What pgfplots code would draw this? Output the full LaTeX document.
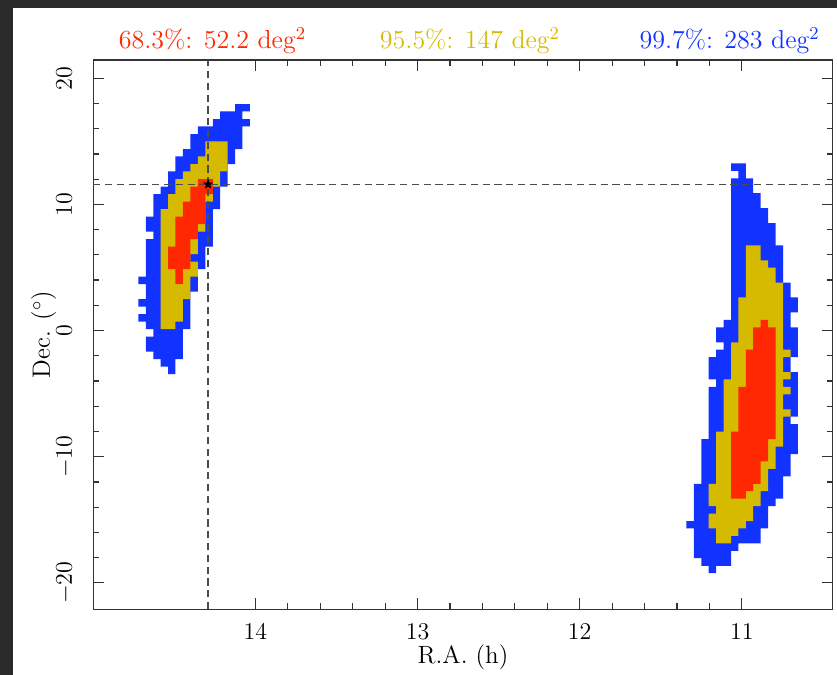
\documentclass[border=0pt]{standalone}
\usepackage{pgfplots}
\pgfplotsset{compat=1.18}
\definecolor{cblue}{RGB}{18,50,255}
\definecolor{cyel}{RGB}{214,186,0}
\definecolor{cred}{RGB}{255,40,0}
\definecolor{framecol}{RGB}{42,42,42}
\pgfdeclareplotmark{fivestar}{%
 \pgfpathmoveto{\pgfpointpolar{90}{\pgfplotmarksize}}%
 \pgfpathlineto{\pgfpointpolar{126}{0.42*\pgfplotmarksize}}%
 \pgfpathlineto{\pgfpointpolar{162}{\pgfplotmarksize}}%
 \pgfpathlineto{\pgfpointpolar{198}{0.42*\pgfplotmarksize}}%
 \pgfpathlineto{\pgfpointpolar{234}{\pgfplotmarksize}}%
 \pgfpathlineto{\pgfpointpolar{270}{0.42*\pgfplotmarksize}}%
 \pgfpathlineto{\pgfpointpolar{306}{\pgfplotmarksize}}%
 \pgfpathlineto{\pgfpointpolar{342}{0.42*\pgfplotmarksize}}%
 \pgfpathlineto{\pgfpointpolar{18}{\pgfplotmarksize}}%
 \pgfpathlineto{\pgfpointpolar{54}{0.42*\pgfplotmarksize}}%
 \pgfpathclose
 \pgfusepathqfillstroke}
\begin{document}
\begin{tikzpicture}
\useasboundingbox (-46.65pt,-32.85pt) rectangle (371.85pt,304.65pt);
\fill[framecol] (-46.65pt,-32.85pt) rectangle (-40.3pt,304.65pt);
\fill[framecol] (-46.65pt,300.65pt) rectangle (371.85pt,304.65pt);
\begin{axis}[
  name=ax, at={(0,0)}, anchor=south west,
  scale only axis, width=369.7pt, height=274.65pt,
  x dir=reverse, xmin=10.44, xmax=15.0, ymin=-22.1, ymax=21.45,
  xtick={11,12,13,14}, ytick={-20,-10,0,10,20},
  minor x tick num=4, minor y tick num=4,
  major tick length=5.5pt, minor tick length=3pt, tick align=inside,
  axis line style={black!80, line width=0.6pt},
  every tick/.style={black!80, line width=0.6pt},
  tick label style={font=\fontsize{12}{14}\selectfont},
  xticklabel style={anchor=base}, xticklabel shift=15.35pt,
  yticklabel style={rotate=90, anchor=base}, yticklabel shift=10.65pt,
  label style={font=\fontsize{12.5}{14}\selectfont},
  xlabel={R.A. (h)},
  xlabel style={at={([yshift=-27.35pt]axis description cs:0.5,0)}, anchor=base},
  ylabel={Dec. ($^{\circ}$)},
  ylabel style={at={([xshift=-21.65pt]axis description cs:0,0.5)}, anchor=base},
  clip=false,
]
% left blob
\addplot[draw=none, fill=cblue] coordinates {
(14.126,17.96) (14.126,17.37) (14.218,17.37) (14.218,16.77) (14.263,16.77) (14.263,16.18) (14.355,16.18) (14.355,15.58) (14.401,15.58) (14.401,14.39) (14.447,14.39) (14.447,13.80) (14.493,13.80) (14.493,12.61) (14.539,12.61) (14.539,11.42) (14.584,11.42) (14.584,10.82) (14.630,10.82) (14.630,9.04) (14.676,9.04) (14.676,7.85) (14.630,7.85) (14.630,7.25) (14.676,7.25) (14.676,4.28) (14.722,4.28) (14.722,3.68) (14.676,3.68) (14.676,2.49) (14.722,2.49) (14.722,1.90) (14.676,1.90) (14.676,1.30) (14.722,1.30) (14.722,0.71) (14.676,0.71) (14.676,0.11) (14.630,0.11) (14.630,-0.48) (14.676,-0.48) (14.676,-1.67) (14.630,-1.67) (14.630,-2.27) (14.584,-2.27) (14.584,-2.86) (14.539,-2.86) (14.539,-3.46)
(14.493,-3.46) (14.493,-2.27) (14.447,-2.27) (14.447,0.11) (14.401,0.11) (14.401,3.09) (14.355,3.09) (14.355,4.87) (14.309,4.87) (14.309,6.66) (14.263,6.66) (14.263,9.63) (14.218,9.63) (14.218,11.42) (14.172,11.42) (14.172,13.20) (14.126,13.20) (14.126,14.39) (14.080,14.39) (14.080,16.18) (14.034,16.18) (14.034,16.77) (14.080,16.77) (14.080,17.37) (14.034,17.37) (14.034,17.96)
};
\addplot[draw=none, fill=cyel] coordinates {
(14.309,14.99) (14.309,13.80) (14.355,13.80) (14.355,13.20) (14.401,13.20) (14.401,12.61) (14.447,12.61) (14.447,12.01) (14.493,12.01) (14.493,10.82) (14.539,10.82) (14.539,9.63) (14.584,9.63) (14.584,0.11)
(14.493,0.11) (14.493,0.71) (14.447,0.71) (14.447,2.49) (14.401,2.49) (14.401,4.28) (14.355,4.28) (14.355,5.47) (14.401,5.47) (14.401,6.06) (14.355,6.06) (14.355,7.85) (14.309,7.85) (14.309,10.23) (14.263,10.23) (14.263,11.42) (14.218,11.42) (14.218,12.61) (14.172,12.61) (14.172,14.99)
};
\addplot[draw=none, fill=cred] coordinates {
(14.355,12.01) (14.355,11.42) (14.401,11.42) (14.401,10.23) (14.447,10.23) (14.447,9.04) (14.493,9.04) (14.493,6.66) (14.539,6.66) (14.539,4.87) (14.493,4.87) (14.493,3.68)
(14.447,3.68) (14.447,4.87) (14.401,4.87) (14.401,7.25) (14.355,7.25) (14.355,8.44) (14.309,8.44) (14.309,10.82) (14.263,10.82) (14.263,12.01)
};
% right blob
\addplot[draw=none, fill=cblue] coordinates {
(11.067,13.25) (11.067,12.66) (11.021,12.66) (11.021,12.07) (11.067,12.07) (11.067,0.85) (11.113,0.85) (11.113,0.25) (11.159,0.25) (11.159,-0.93) (11.113,-0.93) (11.113,-1.52) (11.159,-1.52) (11.159,-2.11) (11.205,-2.11) (11.205,-3.88) (11.159,-3.88) (11.159,-4.47) (11.205,-4.47) (11.205,-8.61) (11.250,-8.61) (11.250,-12.15) (11.296,-12.15) (11.296,-15.10) (11.342,-15.10) (11.342,-15.69) (11.296,-15.69) (11.296,-18.05) (11.250,-18.05) (11.250,-18.65) (11.205,-18.65) (11.205,-19.24)
(11.159,-19.24) (11.159,-18.65) (11.067,-18.65) (11.067,-17.46) (11.021,-17.46) (11.021,-16.87) (10.884,-16.87) (10.884,-15.69) (10.838,-15.69) (10.838,-13.92) (10.792,-13.92) (10.792,-13.33) (10.746,-13.33) (10.746,-11.56) (10.700,-11.56) (10.700,-9.79) (10.655,-9.79) (10.655,-7.42) (10.700,-7.42) (10.700,-6.83) (10.655,-6.83) (10.655,-3.29) (10.700,-3.29) (10.700,-2.11) (10.655,-2.11) (10.655,0.25) (10.700,0.25) (10.700,1.44) (10.655,1.44) (10.655,2.62) (10.700,2.62) (10.700,3.80) (10.746,3.80) (10.746,6.75) (10.792,6.75) (10.792,8.52) (10.838,8.52) (10.838,9.71) (10.884,9.71) (10.884,10.89) (10.930,10.89) (10.930,12.07) (10.976,12.07) (10.976,13.25)
};
\addplot[draw=none, fill=cyel] coordinates {
(10.976,6.75) (10.976,2.62) (11.021,2.62) (11.021,-0.93) (11.067,-0.93) (11.067,-3.88) (11.113,-3.88) (11.113,-8.02) (11.159,-8.02) (11.159,-12.15) (11.205,-12.15) (11.205,-13.92) (11.159,-13.92) (11.159,-14.51) (11.205,-14.51) (11.205,-15.69) (11.159,-15.69) (11.159,-16.87)
(11.067,-16.87) (11.067,-16.28) (11.021,-16.28) (11.021,-15.69) (10.976,-15.69) (10.976,-15.10) (10.930,-15.10) (10.930,-13.92) (10.884,-13.92) (10.884,-12.74) (10.838,-12.74) (10.838,-10.97) (10.792,-10.97) (10.792,-9.20) (10.746,-9.20) (10.746,-6.83) (10.700,-6.83) (10.700,-6.24) (10.746,-6.24) (10.746,-5.06) (10.700,-5.06) (10.700,-4.47) (10.746,-4.47) (10.746,-3.88) (10.700,-3.88) (10.700,-3.29) (10.746,-3.29) (10.746,-2.11) (10.700,-2.11) (10.700,-1.52) (10.746,-1.52) (10.746,3.80) (10.792,3.80) (10.792,4.98) (10.838,4.98) (10.838,5.57) (10.884,5.57) (10.884,6.75)
};
\addplot[draw=none, fill=cred] coordinates {
(10.884,0.85) (10.884,0.25) (10.930,0.25) (10.930,-1.52) (10.976,-1.52) (10.976,-4.47) (11.021,-4.47) (11.021,-8.02) (11.067,-8.02) (11.067,-13.33)
(10.976,-13.33) (10.976,-12.74) (10.930,-12.74) (10.930,-12.15) (10.884,-12.15) (10.884,-10.38) (10.838,-10.38) (10.838,-8.61) (10.792,-8.61) (10.792,0.25) (10.838,0.25) (10.838,0.85)
};
% dashed cross-hair
\addplot[black!70, line width=0.6pt, dash pattern=on 3.6pt off 2.3pt] coordinates {(14.292,-22.1) (14.292,21.45)};
\addplot[black!70, line width=0.6pt, dash pattern=on 3.6pt off 2.3pt] coordinates {(15.0,11.59) (10.44,11.59)};
\addplot[only marks, mark=fivestar, mark size=2.4pt, mark options={fill=black, draw=black, line width=0.2pt}] coordinates {(14.292,11.59)};
% titles
\node[anchor=base, text=cred, font=\fontsize{13}{15}\selectfont] at ([yshift=5.85pt]axis cs:14.265,21.45) {68.3\%: 52.2 deg$^{2}$};
\node[anchor=base, text=cyel, font=\fontsize{13}{15}\selectfont] at ([yshift=5.85pt]axis cs:12.677,21.45) {95.5\%: 147 deg$^{2}$};
\node[anchor=base, text=cblue, font=\fontsize{13}{15}\selectfont] at ([yshift=5.85pt]axis cs:11.076,21.45) {99.7\%: 283 deg$^{2}$};
\end{axis}
\end{tikzpicture}
\end{document}
